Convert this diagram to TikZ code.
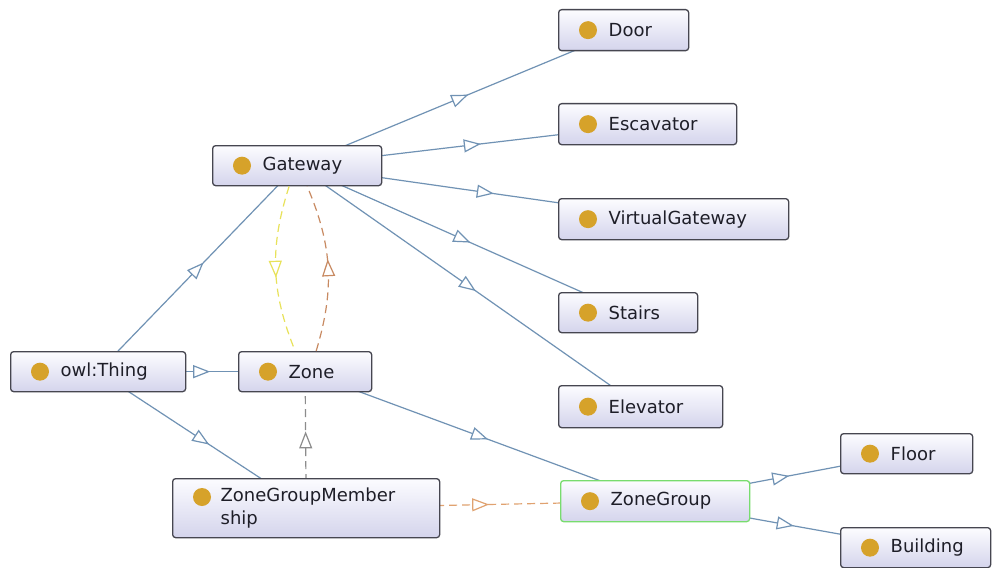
\documentclass[tikz,border=0pt]{standalone}
\usepackage{fontspec}
\setmainfont{DejaVu Sans}
\usetikzlibrary{arrows.meta,decorations.markings,backgrounds}
\definecolor{boxc}{RGB}{70,70,80}
\definecolor{boxtop}{RGB}{252,252,255}
\definecolor{boxbot}{RGB}{212,212,236}
\definecolor{dotc}{RGB}{214,162,42}
\definecolor{textc}{RGB}{30,30,40}
\definecolor{edgec}{RGB}{112,146,180}
\definecolor{grayc}{RGB}{140,140,140}
\definecolor{orc}{RGB}{224,162,112}
\definecolor{brc}{RGB}{200,138,98}
\definecolor{yelc}{RGB}{232,226,90}
\definecolor{zgreen}{RGB}{120,220,110}
\tikzset{
  cls/.style={draw=boxc, line width=1.3pt, rounded corners=3pt, top color=boxtop, bottom color=boxbot,
    anchor=north west, inner xsep=0pt, inner ysep=0pt, align=left, text=textc,
    font=\fontsize{18}{23}\selectfont},
  isa/.style={color=#1, draw, line width=1.2pt, postaction={decorate},
    decoration={markings, mark=at position 0.5 with {\arrow[xshift=8.5pt]{Triangle[length=17pt,width=13pt,fill=white]}}}},
  isa/.default=edgec,
  dashes/.style={dash pattern=on 8pt off 5pt},
}
\begin{document}
\begin{tikzpicture}[x=1pt,y=-1pt]
		\useasboundingbox (0,0) rectangle (992,567);
		% classes
		\node[cls, text width=130pt, minimum height=41pt] (door) at (558,9) {\hspace*{50pt}Door};
		\node[cls, text width=178pt, minimum height=41pt] (esc) at (558,103) {\hspace*{50pt}Escavator};
		\node[cls, text width=169pt, minimum height=40pt] (gw) at (212,145) {\hspace*{50pt}Gateway};
		\node[cls, text width=230pt, minimum height=41pt] (vg) at (558,198) {\hspace*{50pt}VirtualGateway};
		\node[cls, text width=139pt, minimum height=40pt] (stairs) at (558,292) {\hspace*{50pt}Stairs};
		\node[cls, text width=175pt, minimum height=40pt] (thing) at (10,351) {\hspace*{50pt}owl:Thing};
		\node[cls, text width=133pt, minimum height=40pt] (zone) at (238,351) {\hspace*{50pt}Zone};
		\node[cls, text width=164pt, minimum height=42pt] (elev) at (558,385) {\hspace*{50pt}Elevator};
		\node[cls, text width=132pt, minimum height=40pt] (floor) at (840,433) {\hspace*{50pt}Floor};
		\node[cls, text width=150pt, minimum height=40pt] (build) at (840,527) {\hspace*{50pt}Building};
		\node[cls, text width=267pt, minimum height=59pt] (zgm) at (172,478) {\hspace*{48pt}ZoneGroupMember\\\hspace*{48pt}ship};
		\node[cls, draw=zgreen, text width=189pt, minimum height=41pt] (zg) at (560,480) {\hspace*{50pt}ZoneGroup};
		\foreach \n in {door,esc,gw,vg,stairs,thing,zone,elev,floor,build,zg}
			\fill[dotc] (\n.west) ++(30,0) circle (9pt);
		\fill[dotc] (zgm.north west) ++(30,19) circle (9pt);
		% subclass links
		\begin{scope}[on background layer]
		\fill[white] (0,0) rectangle (992,567);
		\draw[isa] (gw.center) -- (door.center);
		\draw[isa] (gw.center) -- (esc.center);
		\draw[isa] (gw.center) -- (vg.center);
		\draw[isa] (gw.center) -- (stairs.center);
		\draw[isa] (gw.center) -- (elev.center);
		\draw[isa] (thing.center) -- (gw.center);
		\draw[isa] (thing.center) -- (zone.center);
		\draw[isa] (thing.center) -- (zgm.center);
		\draw[isa] (zone.center) -- (zg.center);
		\draw[isa] (zg.center) -- (floor.center);
		\draw[isa] (zg.center) -- (build.center);
		\draw[isa=grayc, dashes] (zgm.center) -- (zone.center);
		\draw[isa=orc, dashes] (zgm.center) -- (zg.center);
		\end{scope}
		% properties
		\draw[isa=yelc, dashes] ([xshift=-8pt]gw.south) to[bend right=20] ([xshift=-10pt]zone.north);
		\draw[isa=brc, dashes] ([xshift=11pt]zone.north) to[bend right=20] ([xshift=10pt]gw.south);
\end{tikzpicture}
\end{document}
